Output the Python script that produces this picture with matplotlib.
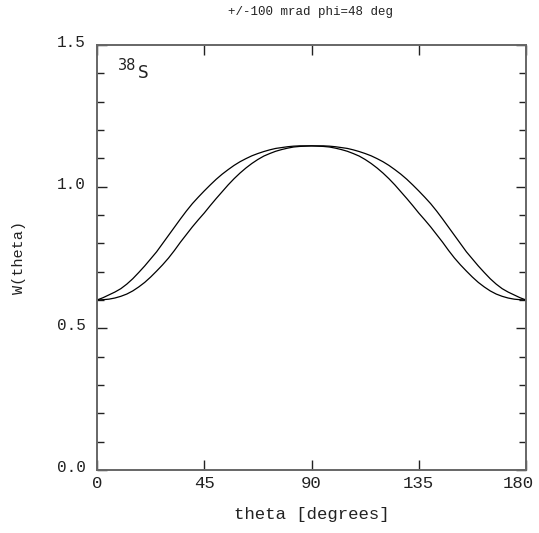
import matplotlib
matplotlib.use("Agg")
import matplotlib.pyplot as plt
from matplotlib.ticker import MultipleLocator
from matplotlib.transforms import ScaledTranslation

theta = [0, 2.5, 5, 7.5, 10, 12.5, 15, 17.5, 20, 22.5, 25, 27.5, 30, 32.5, 35, 37.5,
         40, 42.5, 45, 47.5, 50, 52.5, 55, 57.5, 60, 62.5, 65, 67.5, 70, 72.5, 75,
         77.5, 80, 82.5, 85, 87.5, 90, 92.5, 95, 97.5, 100, 102.5, 105, 107.5, 110,
         112.5, 115, 117.5, 120, 122.5, 125, 127.5, 130, 132.5, 135, 137.5, 140,
         142.5, 145, 147.5, 150, 152.5, 155, 157.5, 160, 162.5, 165, 167.5, 170,
         172.5, 175, 177.5, 180]

w_broad = [0.600, 0.608, 0.618, 0.628, 0.640, 0.656, 0.675, 0.697, 0.720, 0.745,
           0.770, 0.799, 0.828, 0.857, 0.886, 0.914, 0.940, 0.963, 0.985, 1.006,
           1.026, 1.044, 1.060, 1.075, 1.088, 1.099, 1.109, 1.117, 1.124, 1.130,
           1.135, 1.138, 1.141, 1.143, 1.144, 1.144, 1.144,
           1.144, 1.144, 1.143, 1.141, 1.138, 1.135, 1.130, 1.124, 1.117, 1.109,
           1.099, 1.088, 1.075, 1.060, 1.044, 1.026, 1.006, 0.985, 0.963, 0.940,
           0.914, 0.886, 0.857, 0.828, 0.799, 0.770, 0.745, 0.720, 0.697, 0.675,
           0.656, 0.640, 0.628, 0.618, 0.608, 0.600]

w_narrow = [0.600, 0.601, 0.603, 0.607, 0.613, 0.621, 0.632, 0.646, 0.662, 0.681,
            0.702, 0.724, 0.748, 0.775, 0.804, 0.831, 0.858, 0.883, 0.907, 0.933,
            0.958, 0.982, 1.006, 1.028, 1.048, 1.066, 1.082, 1.096, 1.108, 1.117,
            1.125, 1.131, 1.136, 1.140, 1.142, 1.143, 1.144,
            1.143, 1.142, 1.140, 1.136, 1.131, 1.125, 1.117, 1.108, 1.096, 1.082,
            1.066, 1.048, 1.028, 1.006, 0.982, 0.958, 0.933, 0.907, 0.883, 0.858,
            0.831, 0.804, 0.775, 0.748, 0.724, 0.702, 0.681, 0.662, 0.646, 0.632,
            0.621, 0.613, 0.607, 0.603, 0.601, 0.600]

x_ticks = [0, 45, 90, 135, 180]
y_ticks = [0.0, 0.5, 1.0, 1.5]
y_tick_labels = ["0.0", "0.5", "1.0", "1.5"]

mono = "Liberation Mono"

fig = plt.figure(figsize=(5.39, 5.33), dpi=100)
ax = fig.add_axes([97/539, 63/533, 429/539, 425/533])

ax.plot(theta, w_broad, color="black", lw=0.9)
ax.plot(theta, w_narrow, color="black", lw=0.9)

ax.set_xlim(0, 180)
ax.set_ylim(0, 1.5)
ax.set_xticks(x_ticks)
ax.set_xticklabels([str(t) for t in x_ticks], fontfamily=mono, fontsize=12.5, color="#222222")
ax.set_yticks(y_ticks)
ax.set_yticklabels(y_tick_labels, fontfamily=mono, fontsize=11.5, color="#222222")
ax.yaxis.set_minor_locator(MultipleLocator(0.1))

ax.tick_params(which="both", direction="in", top=True, right=True, color="#222222", width=1.0)
ax.tick_params(which="major", length=7.2)
ax.tick_params(axis="y", which="major", pad=8)
ax.tick_params(axis="x", which="major", pad=4)
ax.tick_params(which="minor", length=5)
for s in ax.spines.values():
    s.set_color("#666666")
    s.set_linewidth(1.4)

# raise the y tick labels slightly, as in the reference
for lab in ax.get_yticklabels():
    lab.set_transform(lab.get_transform() + ScaledTranslation(0, 4/100, fig.dpi_scale_trans))

# keep the last x tick label inside the figure, as in the reference
last = ax.get_xticklabels()[-1]
last.set_transform(last.get_transform() + ScaledTranslation(-8/100, 0, fig.dpi_scale_trans))

ax.set_xlabel("theta [degrees]", fontfamily=mono, fontsize=12.5, labelpad=12, color="#222222")
ax.set_ylabel("W(theta)", fontfamily=mono, fontsize=11, labelpad=22, color="#222222")
fig.text(311/539, 1 - 12/533, "+/-100 mrad phi=48 deg", ha="center", va="center",
         fontfamily=mono, fontsize=9, color="#222222")

fig.text(118/539, 1 - 70/533, "38", fontsize=10.5, va="baseline", ha="left", color="#222222")
fig.text(137.5/539, 1 - 78/533, "S", fontsize=12, va="baseline", ha="left", color="#222222")

fig.savefig("out.png", dpi=100)
